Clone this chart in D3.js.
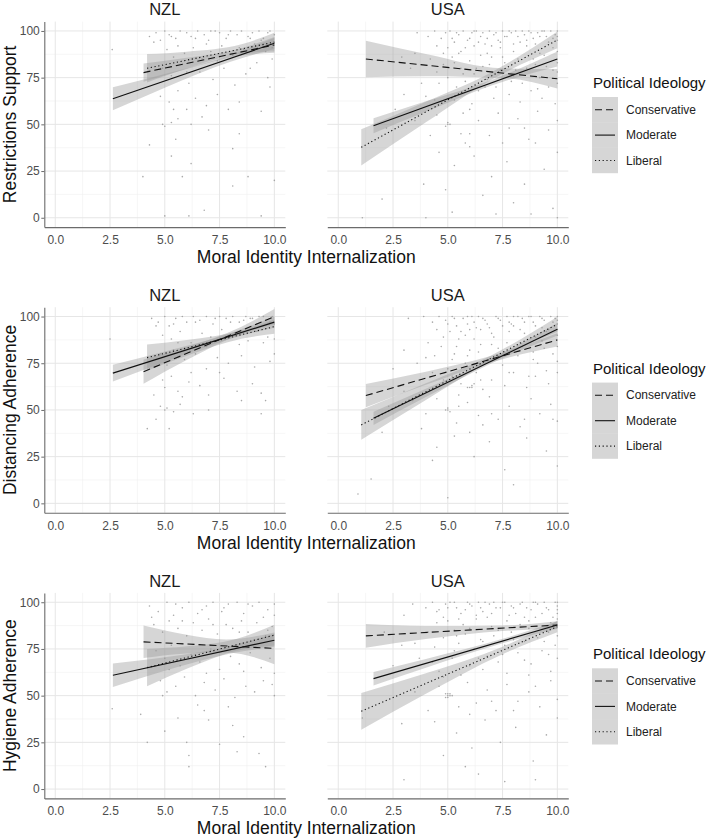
<!DOCTYPE html>
<html><head><meta charset="utf-8">
<script src="https://cdn.jsdelivr.net/npm/d3@7"></script>
<style>body{margin:0;background:#fff}svg{display:block;font-family:"Liberation Sans",Arial,sans-serif}</style>
</head><body><svg id="chart" width="709" height="840"></svg>
<script>
// ---------- categories & ticks ----------
const countries = ["NZL", "USA"];
const outcomes = ["Restrictions Support", "Distancing Adherence", "Hygiene Adherence"];
const ideologies = ["Conservative", "Moderate", "Liberal"];
const xTicks = [0, 2.5, 5, 7.5, 10];
const xMinor = [1.25, 3.75, 6.25, 8.75];
const yTicks = [0, 25, 50, 75, 100];
const yMinor = [12.5, 37.5, 62.5, 87.5];
const xTitle = "Moral Identity Internalization";
const legendTitle = "Political Ideology";

// ---------- fitted lines: [ideology, x0, y0, x1, y1] ----------
const fitRestrictionsNZL = [["Conservative",4.03,77.7,10,92.5],["Moderate",2.63,63.7,10,93.4],["Liberal",4.19,80,10,94]];
const fitRestrictionsUSA = [["Conservative",1.26,85,10,74.4],["Moderate",1.61,49.3,10,85],["Liberal",1.05,37.7,10,95.2]];
const fitDistancingNZL = [["Conservative",4.03,70.5,10,100],["Moderate",2.63,69.7,10,97],["Liberal",4.19,78,10,94.6]];
const fitDistancingUSA = [["Conservative",1.26,57.7,10,87.5],["Moderate",1.61,45.5,10,93.2],["Liberal",1.05,42,10,95.9]];
const fitHygieneNZL = [["Conservative",4.03,78.8,10,75.3],["Moderate",2.63,60.9,10,79.7],["Liberal",4.19,65,10,82.4]];
const fitHygieneUSA = [["Conservative",1.26,82,10,87.8],["Moderate",1.61,59.1,10,87.8],["Liberal",1.05,41.6,10,86.9]];

// ---------- confidence bands: [ideology, x, lower, upper] ----------
const bandRestrictionsNZL = [
 ["Moderate",2.63,57.5,69.9],["Moderate",5,69.6,76.9],["Moderate",8,83.5,87.1],["Moderate",10,90.4,96.4],
 ["Conservative",4.03,72.8,82.6],["Conservative",6,79.6,85.6],["Conservative",8.5,86.8,90.8],["Conservative",10,88.3,96.7],
 ["Liberal",4.19,72.4,87.6],["Liberal",6,79.9,88.9],["Liberal",8.5,87.9,92.9],["Liberal",10,89,99]];
const bandRestrictionsUSA = [
 ["Conservative",1.26,75.2,94.8],["Conservative",4,75.7,87.7],["Conservative",7.5,74.8,80],["Conservative",10,69.2,79.6],
 ["Moderate",1.61,45.3,53.3],["Moderate",4,56.7,62.3],["Moderate",7,70.8,73.8],["Moderate",10,81,89],
 ["Liberal",1.05,28,47.4],["Liberal",4,51.1,62.1],["Liberal",7,73.9,77.9],["Liberal",10,90.7,99.7]];
const bandDistancingNZL = [
 ["Moderate",2.63,65.2,74.2],["Moderate",5,75.7,81.3],["Moderate",8,88.1,91.1],["Moderate",10,94,100],
 ["Conservative",4.03,64,77],["Conservative",6,76.7,83.7],["Conservative",8.5,90.6,94.6],["Conservative",10,96,104],
 ["Liberal",4.19,71,85],["Liberal",6,79,87.4],["Liberal",8.5,88.1,92.5],["Liberal",10,90.8,98.4]];
const bandDistancingUSA = [
 ["Conservative",1.26,51.5,63.9],["Conservative",4,63.5,70.5],["Conservative",7,75.6,79],["Conservative",10,83.9,91.1],
 ["Moderate",1.61,42,49],["Moderate",4,56.9,61.3],["Moderate",7,75,77.4],["Moderate",10,89.9,96.5],
 ["Liberal",1.05,34,50],["Liberal",4,55.3,64.3],["Liberal",7,76.3,79.3],["Liberal",10,91.9,99.9]];
const bandHygieneNZL = [
 ["Moderate",2.63,54.6,67.2],["Moderate",5,63.3,70.5],["Moderate",8,72.6,76.6],["Moderate",10,76.2,83.2],
 ["Conservative",4.03,70.1,87.5],["Conservative",6,72.6,82.6],["Conservative",7.8,73.1,80.1],["Conservative",10,66.8,83.8],
 ["Liberal",4.19,55,75],["Liberal",6,64.4,76.4],["Liberal",8.3,74.1,80.5],["Liberal",10,76.9,87.9]];
const bandHygieneUSA = [
 ["Conservative",1.26,75.7,88.3],["Conservative",4,80.3,87.3],["Conservative",7.5,84.6,87.6],["Conservative",10,85.8,89.8],
 ["Moderate",1.61,55.5,62.7],["Moderate",4,65,69.6],["Moderate",7.5,78,80.4],["Moderate",10,85.8,89.8],
 ["Liberal",1.05,31.8,51.4],["Liberal",4,51,62],["Liberal",7.5,72.2,76.2],["Liberal",10,83.9,89.9]];

// ---------- raw responses (approximate readings): [x, y] ----------
const pointsRestrictionsNZL = [[4.3,97],[4.6,99],[4.8,95],[5.0,100],[5.2,98],[5.5,96],[5.7,100],[6.0,99],[6.2,97],[6.5,100],[6.8,98],[7.0,95],[7.3,100],[7.5,99],[7.8,96],[8.0,100],[8.3,98],[8.5,100],[8.8,97],[9.0,99],[9.3,100],[9.5,96],[9.8,100],[10,98],[5.1,90],[5.4,86],[5.9,88],[6.3,91],[6.7,85],[7.1,89],[7.6,92],[8.1,87],[8.6,90],[9.1,93],[9.6,89],[9.9,91],[4.9,80],[5.3,76],[5.8,82],[6.1,72],[6.6,78],[7.2,74],[7.7,80],[8.2,71],[8.7,77],[9.2,83],[9.7,75],[4.8,65],[5.2,62],[5.6,68],[6.0,58],[6.4,64],[6.9,60],[7.4,66],[8.4,62],[9.4,57],[4.9,50],[5.0,49],[5.3,51],[5.6,53],[6.2,50],[7.0,47],[4.3,39],[5.3,33],[5.8,22],[6.2,29],[4.0,22],[8.1,17],[6.8,4],[6.1,1],[5.0,1],[9.4,1],[8.8,22],[10,20],[8.4,45],[8.1,37],[2.6,90],[5.5,42],[9.9,85],[7.9,58],
 [4.5,94],[5.3,97],[6.4,96],[7.1,100],[7.9,98],[8.9,96],[9.7,99],[5.6,92],[6.9,93],[8.4,91],[9.4,95],[6.0,78],[7.4,84],[8.9,80],[9.8,70],[5.4,58],[6.7,54]];
const pointsRestrictionsUSA = [[3.6,99],[4.1,97],[4.4,100],[4.7,96],[4.9,99],[5.1,100],[5.3,94],[5.5,98],[5.7,100],[5.9,95],[6.1,99],[6.3,100],[6.5,97],[6.7,93],[6.9,100],[7.1,98],[7.3,95],[7.5,100],[7.7,97],[7.9,99],[8.1,100],[8.3,94],[8.5,98],[8.7,100],[8.9,96],[9.1,99],[9.3,100],[9.5,97],[9.7,100],[9.9,98],[10,100],[10,95],[5.0,91],[5.6,89],[6.2,92],[6.8,88],[7.4,91],[8.0,89],[8.6,92],[9.2,88],[9.8,91],[4.2,85],[4.5,78],[4.8,82],[5.0,75],[5.2,86],[5.4,70],[5.6,80],[5.8,73],[6.0,84],[6.2,77],[6.4,68],[6.6,81],[6.8,74],[7.0,86],[7.2,70],[7.4,79],[7.6,83],[7.8,66],[8.0,76],[8.2,85],[8.4,72],[8.6,80],[8.8,68],[9.0,82],[9.2,75],[9.4,87],[9.6,70],[9.8,79],[10,83],[10,72],[3.3,80],[3.8,72],[2.9,86],[4.0,65],[5.3,63],[6.1,61],[7.1,64],[8.3,62],[9.3,64],[9.9,61],[5.5,88],[6.5,87],[5.0,50],[5.0,51],[4.9,49],[5.1,50],[4.5,55],[5.6,45],[6.0,58],[6.4,52],[6.9,44],[7.3,56],[7.8,48],[8.2,53],[8.7,42],[9.1,57],[9.6,47],[10,52],[3.5,52],[4.2,44],[2.6,58],[5.8,40],[4.6,35],[5.3,28],[6.2,33],[7.0,22],[7.7,30],[8.5,18],[9.4,26],[10,35],[4.9,15],[6.6,12],[8.0,8],[9.8,5],[5.2,3],[3.9,18],[2.0,10],[7.2,2],[9.0,40],[6.0,38],[1.1,0],[4.0,0],[10,0],[8.8,2],
 [4.5,92],[4.8,88],[5.2,96],[5.4,99],[5.8,91],[6.0,96],[6.2,100],[6.4,94],[6.6,99],[6.8,96],[7.0,92],[7.2,99],[7.4,94],[7.6,97],[7.8,100],[8.0,93],[8.2,97],[8.4,100],[8.6,95],[8.8,99],[9.0,93],[9.2,97],[9.4,100],[9.6,94],[9.8,96],[10,97],[10,89],[5.3,83],[5.7,77],[6.3,80],[6.9,82],[7.5,86],[8.1,79],[8.9,85],[9.5,81],[10,78],[4.6,72],[5.5,66],[6.7,70],[7.9,73],[9.1,69],[6.0,45],[7.5,40],[8.5,48],[5.7,56],[4.4,63],[3.0,66],[2.2,48],[3.5,88]];
const pointsDistancingNZL = [[4.4,99],[4.7,97],[5.0,100],[5.2,95],[5.5,99],[5.8,100],[6.0,97],[6.3,100],[6.6,98],[6.9,100],[7.2,96],[7.5,100],[7.8,99],[8.1,100],[8.4,97],[8.7,100],[9.0,99],[9.3,100],[9.6,98],[9.9,100],[10,96],[8.9,99],[9.5,100],[4.9,90],[5.3,88],[5.7,92],[6.2,86],[6.7,91],[7.1,89],[7.6,93],[8.2,90],[8.8,87],[9.2,92],[9.7,89],[10,88],[4.8,80],[5.1,74],[5.4,82],[5.9,77],[6.4,80],[6.9,72],[7.4,78],[7.9,75],[8.5,79],[9.1,73],[9.8,76],[10,80],[4.9,66],[5.0,62],[5.3,68],[5.6,60],[6.1,65],[6.6,63],[7.0,58],[7.7,67],[8.3,60],[9.4,59],[9.6,55],[4.8,52],[5.0,50],[5.1,51],[5.4,49],[5.7,53],[6.3,48],[7.0,50],[8.5,55],[4.6,45],[5.2,40],[4.2,40],[2.5,88],[9.4,48],[4.5,58],
 [4.6,95],[5.4,96],[6.4,97],[7.3,99],[8.0,97],[8.6,98],[9.2,96],[9.8,97],[5.6,86],[6.9,84],[8.4,85],[9.5,86],[6.2,70],[7.5,70],[9.0,64],[5.8,57]];
const pointsDistancingUSA = [[3.2,99],[3.9,100],[4.3,97],[4.6,100],[4.9,98],[5.2,100],[5.4,95],[5.7,99],[5.9,100],[6.2,97],[6.4,100],[6.7,98],[6.9,94],[7.2,100],[7.4,98],[7.7,100],[7.9,96],[8.2,100],[8.4,99],[8.7,100],[8.9,97],[9.2,100],[9.4,98],[9.7,100],[9.9,99],[10,100],[10,96],[5.1,92],[5.8,90],[6.5,93],[7.1,89],[7.8,92],[8.5,91],[9.0,89],[9.6,93],[10,90],[9.3,94],[8.0,95],[6.0,93],[4.1,86],[4.4,79],[4.7,84],[5.0,72],[5.3,80],[5.5,88],[5.8,75],[6.0,82],[6.0,62],[6.1,63],[6.3,70],[6.5,85],[6.8,77],[7.0,66],[7.3,83],[7.5,74],[7.7,86],[8.0,70],[8.2,79],[8.4,84],[8.7,68],[8.9,81],[9.1,75],[9.3,87],[9.5,71],[9.8,80],[10,84],[10,70],[3.6,75],[3.0,82],[2.5,72],[4.8,66],[5.6,64],[6.6,61],[7.6,63],[8.6,62],[9.6,64],[5.2,77],[6.2,88],[5.0,50],[5.0,51],[4.9,50],[5.1,49],[4.5,56],[5.4,43],[5.9,54],[6.4,47],[6.9,57],[7.3,45],[7.8,52],[8.3,41],[8.8,56],[9.2,48],[9.7,53],[10,44],[4.0,48],[3.4,55],[5.5,58],[4.5,30],[5.3,36],[6.2,25],[6.9,33],[7.6,18],[8.6,35],[9.5,28],[10,20],[3.8,40],[2.0,38],[1.5,13],[0.9,5],[5.0,3],[4.3,23],[8.0,10],[9.8,45],[6.0,38],
 [4.5,93],[4.8,89],[5.0,96],[5.3,99],[5.6,92],[5.9,96],[6.1,100],[6.3,94],[6.6,99],[6.8,96],[7.0,91],[7.3,99],[7.5,95],[7.8,97],[8.0,100],[8.3,93],[8.5,97],[8.8,100],[9.0,95],[9.3,99],[9.5,92],[9.8,97],[10,93],[10,98],[5.4,84],[5.9,79],[6.4,81],[7.0,85],[7.6,79],[8.3,86],[8.9,77],[9.4,83],[10,76],[4.3,70],[5.2,68],[6.5,66],[7.8,70],[9.0,68],[6.1,62],[5.9,62],[6.2,64],[5.5,52],[7.0,48],[8.5,45],[3.0,60],[2.3,52],[4.0,78],[6.6,42]];
const pointsHygieneNZL = [[4.3,98],[4.7,95],[5.1,100],[5.4,93],[5.8,97],[6.1,100],[6.5,94],[6.9,98],[7.2,100],[7.6,95],[7.9,99],[8.3,100],[8.6,94],[9.0,98],[9.3,100],[9.7,96],[10,99],[10,93],[4.5,88],[4.9,84],[5.2,90],[5.6,86],[6.0,82],[6.3,89],[6.7,85],[7.0,91],[7.4,83],[7.8,88],[8.1,86],[8.5,90],[8.8,84],[9.2,89],[9.6,82],[9.9,87],[4.6,74],[5.0,70],[5.3,77],[5.7,66],[6.2,72],[6.6,68],[7.1,75],[7.5,64],[8.0,71],[8.4,67],[8.9,73],[9.4,65],[9.8,70],[10,62],[4.8,58],[5.1,52],[5.5,55],[5.9,60],[6.4,50],[6.8,57],[7.3,53],[7.7,59],[8.2,49],[8.7,55],[9.1,52],[9.5,58],[10,50],[4.9,50],[4.2,25],[5.0,31],[5.6,38],[6.0,25],[6.1,18],[6.1,12],[6.8,42],[7.5,24],[8.1,34],[8.3,20],[8.6,28],[9.3,19],[9.6,12],[3.9,40],[2.6,43],[7.0,37],
 [4.4,92],[5.5,99],[6.7,96],[7.7,97],[8.8,99],[9.5,92],[5.8,90],[7.2,88],[8.4,84],[9.7,85],[5.2,64],[6.9,62],[8.6,63],[9.9,56],[6.5,45],[7.9,44]];
const pointsHygieneUSA = [[3.4,99],[4.0,97],[4.3,100],[4.6,96],[4.9,99],[5.1,100],[5.4,97],[5.6,94],[5.9,100],[6.1,98],[6.4,100],[6.6,95],[6.9,99],[7.1,100],[7.4,97],[7.6,100],[7.9,98],[8.1,94],[8.4,100],[8.6,97],[8.9,100],[9.1,99],[9.4,100],[9.6,96],[9.9,100],[10,98],[10,94],[3.0,93],[5.0,90],[5.7,88],[6.3,91],[7.0,87],[7.7,90],[8.3,88],[9.0,92],[9.7,89],[10,91],[4.5,89],[6.8,92],[8.7,90],[4.1,84],[4.4,76],[4.8,81],[5.2,70],[5.5,78],[5.8,83],[6.0,66],[6.2,75],[6.5,80],[6.8,71],[7.1,82],[7.3,68],[7.6,77],[7.9,84],[8.2,73],[8.5,79],[8.8,67],[9.1,81],[9.3,74],[9.6,84],[9.9,77],[10,70],[3.7,70],[2.9,77],[2.1,84],[4.6,63],[5.6,61],[6.6,64],[7.7,62],[8.7,61],[9.7,63],[5.3,85],[5.0,50],[5.0,51],[4.9,49],[5.1,50],[5.1,51],[4.6,55],[5.5,44],[5.9,57],[6.3,46],[6.8,53],[7.2,42],[7.7,56],[8.2,47],[8.7,52],[9.2,44],[9.7,58],[10,48],[4.1,42],[3.5,52],[4.4,36],[5.4,30],[6.1,22],[6.7,37],[7.4,25],[8.1,33],[8.9,15],[9.5,29],[10,38],[4.8,18],[6.4,8],[7.6,4],[9.0,5],[5.8,12],[3.0,5],[1.1,38],[2.9,35],
 [4.5,95],[4.8,92],[5.0,97],[5.3,100],[5.5,91],[5.8,96],[6.0,99],[6.3,93],[6.5,97],[6.7,100],[7.0,94],[7.2,97],[7.5,100],[7.8,93],[8.0,97],[8.3,99],[8.5,92],[8.8,96],[9.0,100],[9.3,94],[9.5,97],[9.8,92],[10,96],[10,100],[5.4,82],[6.0,86],[6.6,79],[7.3,85],[8.0,80],[8.7,86],[9.4,79],[10,82],[4.3,68],[5.3,74],[6.4,70],[7.5,72],[8.5,69],[9.6,72],[5.0,49],[4.9,51],[5.2,50],[6.0,40],[7.0,47],[8.0,42],[9.0,55],[3.5,78],[2.5,66],[4.8,60]];

// ---------- panel table built from the arrays ----------
const panels = [
 {row:0, country:"NZL", fit:fitRestrictionsNZL, band:bandRestrictionsNZL, pts:pointsRestrictionsNZL},
 {row:0, country:"USA", fit:fitRestrictionsUSA, band:bandRestrictionsUSA, pts:pointsRestrictionsUSA},
 {row:1, country:"NZL", fit:fitDistancingNZL, band:bandDistancingNZL, pts:pointsDistancingNZL},
 {row:1, country:"USA", fit:fitDistancingUSA, band:bandDistancingUSA, pts:pointsDistancingUSA},
 {row:2, country:"NZL", fit:fitHygieneNZL, band:bandHygieneNZL, pts:pointsHygieneNZL},
 {row:2, country:"USA", fit:fitHygieneUSA, band:bandHygieneUSA, pts:pointsHygieneUSA}
];

// ---------- layout ----------
const svg = d3.select("#chart");
const panelLeft = {NZL: 44.3, USA: 327.3};
const panelW = 241;
const rowTop = [21.6, 307.2, 592.9];
const panelH = 205.5;
const dash = {Conservative: "7,4", Moderate: null, Liberal: "1.2,2.6"};
const ribbonFill = "#999999", ribbonOpacity = 0.4;

panels.forEach((p, i) => {
  const x0 = panelLeft[p.country], y0 = rowTop[p.row];
  const x = d3.scaleLinear().domain([-0.5, 10.5]).range([x0, x0 + panelW]);
  const y = d3.scaleLinear().domain([-5, 105]).range([y0 + panelH, y0]);
  const g = svg.append("g");

  const cid = "clip" + i;
  svg.append("clipPath").attr("id", cid).append("rect")
    .attr("x", x0).attr("y", y0).attr("width", panelW).attr("height", panelH);

  // grid
  const grid = g.append("g");
  grid.selectAll(".vmin").data(xMinor).join("line")
    .attr("x1", d => x(d)).attr("x2", d => x(d)).attr("y1", y0).attr("y2", y0 + panelH)
    .attr("stroke", "#f0f0f0").attr("stroke-width", 0.6);
  grid.selectAll(".hmin").data(yMinor).join("line")
    .attr("y1", d => y(d)).attr("y2", d => y(d)).attr("x1", x0).attr("x2", x0 + panelW)
    .attr("stroke", "#f0f0f0").attr("stroke-width", 0.6);
  grid.selectAll(".vmaj").data(xTicks).join("line")
    .attr("x1", d => x(d)).attr("x2", d => x(d)).attr("y1", y0).attr("y2", y0 + panelH)
    .attr("stroke", "#e6e6e6").attr("stroke-width", 1);
  grid.selectAll(".hmaj").data(yTicks).join("line")
    .attr("y1", d => y(d)).attr("y2", d => y(d)).attr("x1", x0).attr("x2", x0 + panelW)
    .attr("stroke", "#e6e6e6").attr("stroke-width", 1);

  // points
  g.append("g").attr("clip-path", `url(#${cid})`)
    .selectAll("circle").data(p.pts).join("circle")
    .attr("cx", d => x(d[0])).attr("cy", d => y(d[1])).attr("r", 0.8)
    .attr("fill", "#9a9a9a").attr("opacity", 0.85);

  // ribbons
  const area = d3.area().x(d => x(d[1])).y0(d => y(d[2])).y1(d => y(d[3])).curve(d3.curveMonotoneX);
  const rib = g.append("g").attr("clip-path", `url(#${cid})`);
  ideologies.forEach(ide => {
    const rows = p.band.filter(d => d[0] === ide);
    rib.append("path").attr("d", area(rows)).attr("fill", ribbonFill).attr("opacity", ribbonOpacity);
  });

  // lines
  const line = d3.line().x(d => x(d[0])).y(d => y(d[1]));
  p.fit.forEach(f => {
    g.append("path").attr("d", line([[f[1], f[2]], [f[3], f[4]]]))
      .attr("fill", "none").attr("stroke", "#111").attr("stroke-width", 1.1)
      .attr("stroke-dasharray", dash[f[0]]);
  });

  // x axis
  const xa = g.append("g").attr("transform", `translate(0,${y0 + panelH})`)
    .call(d3.axisBottom(x).tickValues(xTicks).tickFormat(d3.format(".1f")).tickSize(0).tickSizeOuter(0).tickPadding(8.5));
  xa.select(".domain").attr("stroke", "#6b6b6b").attr("stroke-width", 1.1);
  xa.selectAll("text").attr("font-size", 12).attr("fill", "#4d4d4d").attr("font-family", null);

  // y axis (first column only)
  if (p.country === "NZL") {
    const ya = g.append("g").attr("transform", `translate(${x0},0)`)
      .call(d3.axisLeft(y).tickValues(yTicks).tickSize(3).tickSizeOuter(0).tickPadding(1.5));
    ya.select(".domain").attr("stroke", "#6b6b6b").attr("stroke-width", 1.1);
    ya.selectAll(".tick line").attr("stroke", "#6b6b6b");
    ya.selectAll("text").attr("font-size", 12).attr("fill", "#4d4d4d").attr("font-family", null);
    g.append("text").attr("transform", "rotate(-90)")
      .attr("x", -(y0 + panelH / 2)).attr("y", 15.5)
      .attr("text-anchor", "middle").attr("font-size", 17.5).attr("fill", "#111")
      .text(outcomes[p.row]);
  }

  // facet title
  g.append("text").attr("x", x0 + panelW / 2).attr("y", y0 - 6.3)
    .attr("text-anchor", "middle").attr("font-size", 16.5).attr("fill", "#1a1a1a").text(p.country);
});

// x titles and legends per row
rowTop.forEach((t, r) => {
  const off = t - rowTop[0];
  svg.append("text").attr("x", (panelLeft.NZL + panelLeft.USA + panelW) / 2).attr("y", t + panelH + 36)
    .attr("text-anchor", "middle").attr("font-size", 17.5).attr("fill", "#111").text(xTitle);

  const lg = svg.append("g").attr("transform", `translate(0,${off})`);
  lg.append("text").attr("x", 593).attr("y", 88).attr("font-size", 15).attr("fill", "#111").text(legendTitle);
  ideologies.forEach((ide, k) => {
    const ky = 97 + k * 25.4;
    lg.append("rect").attr("x", 592).attr("y", ky).attr("width", 26).attr("height", 25.4)
      .attr("fill", ribbonFill).attr("opacity", ribbonOpacity);
    lg.append("line").attr("x1", 595).attr("x2", 615).attr("y1", ky + 12.7).attr("y2", ky + 12.7)
      .attr("stroke", "#111").attr("stroke-width", 1.1).attr("stroke-dasharray", dash[ide]);
    lg.append("text").attr("x", 626).attr("y", ky + 12.7).attr("dy", "0.35em")
      .attr("font-size", 12).attr("fill", "#222").text(ide);
  });
});
</script></body></html>
